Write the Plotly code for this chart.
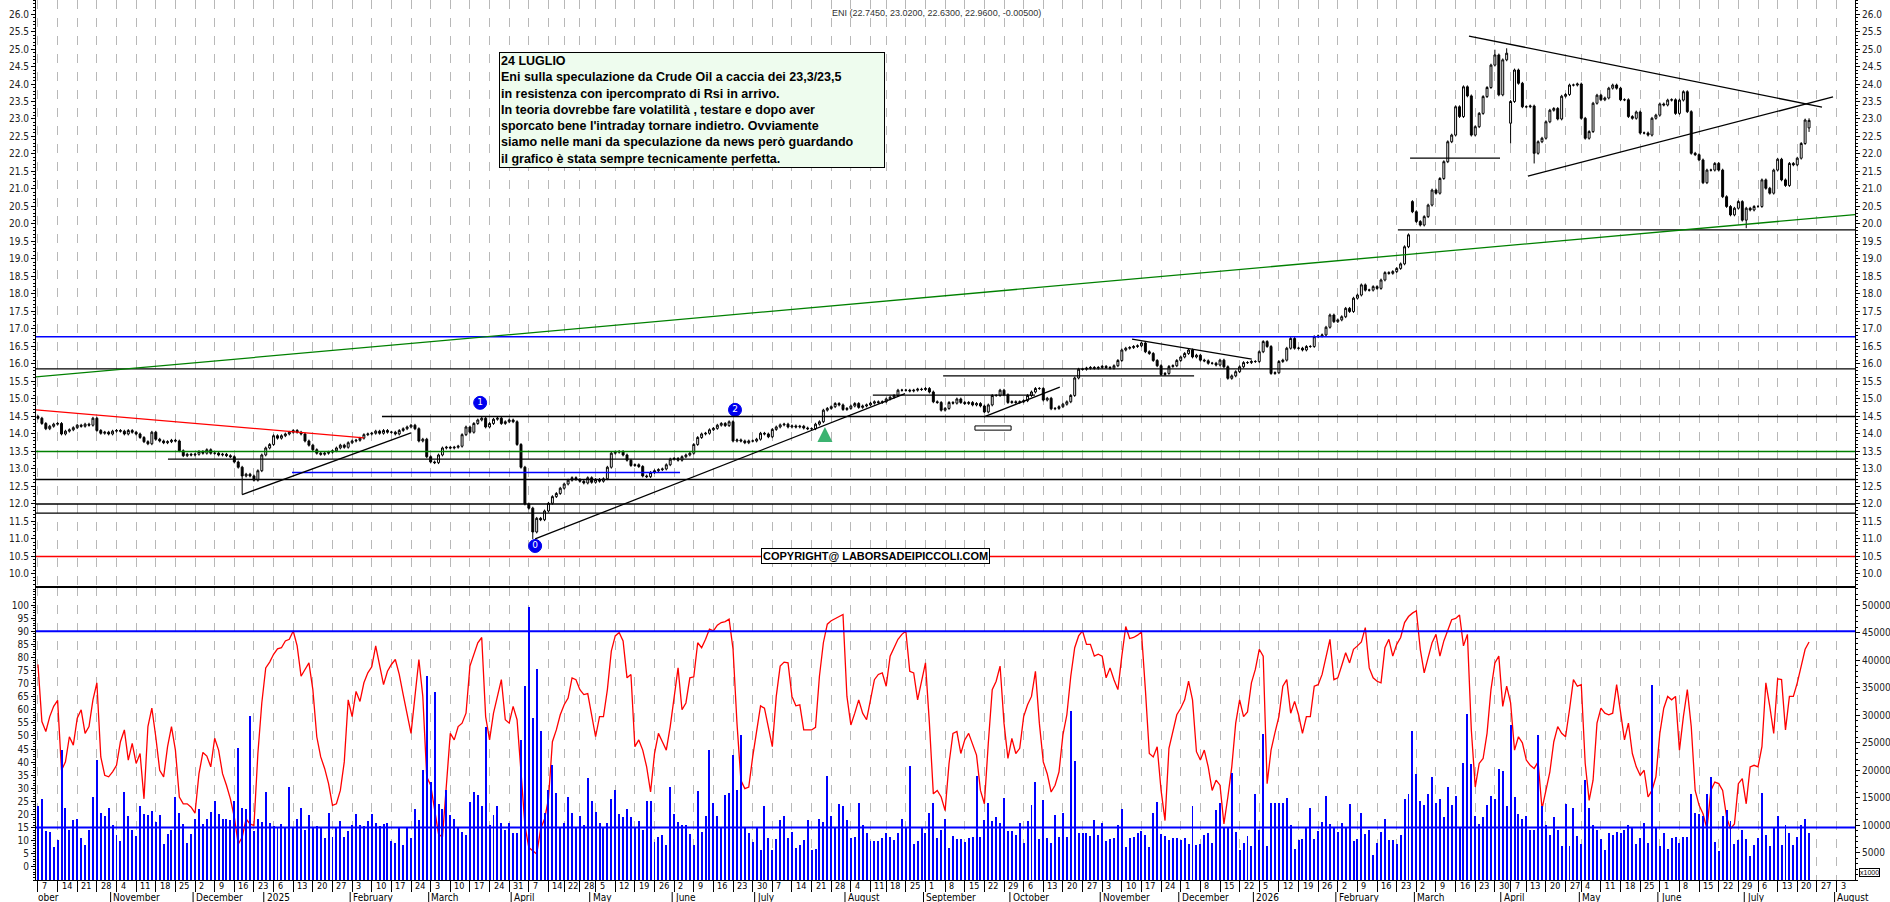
"""
ENI daily candles with trend lines, RSI and volume panel (24 luglio update).
"""
import pandas as pd
import plotly.graph_objects as go

# ---- daily closes, one value per trading day ----
close_oct24_apr25 = [
    14.45, 14.3, 14.15, 14.22, 14.28, 14.3, 14.0, 14.08, 14.12, 14.18,
    14.25, 14.22, 14.28, 14.25, 14.45, 14.1, 14.02, 14.05, 14.0, 14.08,
    14.1, 14.08, 14.0, 14.1, 14.05, 14.0, 13.9, 13.78, 13.72, 14.05,
    13.85, 13.8, 13.75, 13.78, 13.82, 13.8, 13.52, 13.38, 13.42, 13.4,
    13.42, 13.5, 13.45, 13.55, 13.45, 13.45, 13.4, 13.42, 13.38, 13.35,
    13.2, 13.05, 12.8, 12.85, 12.8, 12.68, 12.95, 13.4, 13.6, 13.7,
    13.95, 13.88, 13.95, 14.0, 14.05, 14.1, 14.05, 14.0, 13.8, 13.68,
    13.55, 13.45, 13.42, 13.45, 13.48, 13.52, 13.6, 13.68, 13.62, 13.75,
    13.8, 13.82, 13.88, 13.98, 14.0, 14.02, 14.08, 14.02, 14.1, 14.05,
    14.05, 14.0, 14.1, 14.15, 14.2, 14.25, 14.15, 13.8, 13.85, 13.35,
    13.2, 13.18, 13.4, 13.6, 13.62, 13.6, 13.62, 13.65, 13.98, 14.2,
    14.05, 14.3, 14.4, 14.45, 14.2, 14.3, 14.42, 14.45, 14.3, 14.35,
    14.4, 14.35, 13.7, 13.05, 12.0, 11.88, 11.2, 11.59, 11.55, 11.8,
    12.02, 12.21, 12.3, 12.45]
close_apr25_dec25 = [
    12.57, 12.68, 12.75, 12.7, 12.65, 12.6, 12.75, 12.62, 12.7, 12.65,
    12.72, 13.05, 13.45, 13.48, 13.5, 13.4, 13.25, 13.1, 13.12, 13.07,
    12.8, 12.78, 12.9, 12.95, 12.98, 13.0, 13.12, 13.28, 13.3, 13.25,
    13.35, 13.4, 13.45, 13.7, 13.9, 14.0, 14.02, 14.12, 14.16, 14.25,
    14.3, 14.24, 14.35, 13.8, 13.83, 13.8, 13.75, 13.8, 13.8, 13.85,
    14.02, 14.0, 13.92, 14.13, 14.2, 14.26, 14.28, 14.2, 14.23, 14.2,
    14.22, 14.17, 14.15, 14.15, 14.28, 14.35, 14.68, 14.73, 14.78, 14.87,
    14.83, 14.7, 14.73, 14.8, 14.87, 14.76, 14.8, 14.83, 14.88, 14.92,
    14.9, 14.92, 15.0, 15.05, 15.1, 15.25, 15.25, 15.25, 15.23, 15.25,
    15.28, 15.27, 15.3, 15.2, 14.92, 14.9, 14.68, 14.73, 14.9, 14.88,
    15.0, 14.9, 14.87, 14.9, 14.83, 14.87, 14.8, 14.63, 14.83, 15.1,
    15.1, 15.25, 15.12, 14.9, 14.92, 14.9, 14.92, 14.95, 15.1, 15.2,
    15.3, 15.3, 14.97, 15.02, 14.72, 14.73, 14.78, 14.85, 14.92, 15.1,
    15.6, 15.85, 15.85, 15.88, 15.9, 15.88, 15.9, 15.93, 15.9, 15.88,
    15.95, 16.1, 16.4, 16.45, 16.47, 16.5, 16.52, 16.6, 16.35, 16.3,
    16.1, 15.95, 15.7, 15.73, 15.93, 15.95, 16.1, 16.2, 16.3, 16.4,
    16.2, 16.25]
close_dec25_mar26 = [
    16.11, 16.09, 16.02, 16.02, 15.97, 16.11, 15.92, 15.59, 15.66, 15.78,
    15.92, 16.04, 16.04, 16.07, 16.07, 16.35, 16.64, 16.5, 15.73, 15.75,
    16.07, 16.11, 16.45, 16.73, 16.45, 16.45, 16.4, 16.5, 16.5, 16.78,
    16.8, 16.83, 17.05, 17.4, 17.21, 17.26, 17.35, 17.59, 17.5, 17.88,
    17.97, 18.26, 18.11, 18.11, 18.21, 18.16, 18.4, 18.61, 18.59, 18.64,
    18.73, 18.86, 19.35, 19.69]
close_mar26_jul26 = [
    20.35, 20.07, 19.97, 20.21, 20.54, 20.97, 20.88, 21.3, 21.78, 22.35,
    22.54, 23.35, 23.07, 23.92, 23.66, 22.54, 22.78, 23.16, 23.64, 23.9,
    24.54, 24.83, 23.69, 24.69, 24.88, 23.5, 24.4, 24.02, 23.35, 23.35,
    23.37, 22.02, 22.35, 22.45, 22.92, 23.25, 23.3, 23.0, 23.65, 23.7,
    23.97, 23.97, 24.0, 23.02, 22.45, 22.64, 23.45, 23.68, 23.55, 23.6,
    23.88, 23.97, 23.88, 23.55, 23.55, 23.07, 23.02, 23.2, 22.6, 22.6,
    22.54, 23.02, 23.11, 23.43, 23.4, 23.54, 23.55, 23.16, 23.54, 23.78,
    23.21, 22.02, 21.98, 21.83, 21.18, 21.54, 21.54, 21.73, 21.54, 20.78,
    20.5, 20.26, 20.45, 20.64, 20.11, 20.45, 20.4, 20.5, 20.5, 21.26,
    21.02, 20.88, 21.54, 21.85, 21.26, 21.1, 21.73, 21.69, 21.88, 22.3,
    22.97, 22.96]

# gap opens and long shadows (trading-day index -> price)
open_gaps = {350: 20.64, 375: 22.88, 451: 22.745}
low_shadows = {52: 12.27, 126: 11.0, 375: 22.3, 381: 21.73, 435: 19.88, 451: 22.63}
high_shadows = {371: 24.98, 374: 25.02, 451: 23.02}

rsi = [
    77.3, 55.5, 51.7, 57.4, 61.3, 63.6, 36.9, 40.1, 49.7, 46.5,
    56.8, 60.0, 51.0, 53.6, 63.8, 70.3, 42.0, 35.0, 34.4, 36.3,
    38.8, 47.8, 52.3, 40.8, 47.2, 39.5, 43.3, 26.0, 53.6,
    60.6, 49.7, 36.9, 34.4, 45.9, 53.6, 44.6, 26.7, 24.1, 24.1,
    22.8, 20.5, 35.6, 43.7, 42.3, 38.2, 49.1, 44.6, 35.6, 31.2,
    26.0, 19.0, 8.7, 11.3, 18.3, 16.4, 15.8, 43.3, 62.6,
    76.0, 78.2, 81.2, 83.3, 83.7, 86.3, 86.9, 90.1, 84.4, 72.8,
    75.4, 77.9, 67.7, 49.7, 42.0, 37.6, 31.8, 23.5, 24.1, 29.2,
    40.1, 63.8, 57.4, 67.0, 63.2, 70.3, 74.1, 76.4, 84.4,
    76.7, 69.6, 74.7, 77.3, 79.2, 73.5, 65.8, 58.7, 51.0, 65.1,
    79.2, 65.1, 34.4, 31.2, 21.5, 12.6, 11.3, 33.1, 51.0,
    48.5, 53.6, 54.9, 58.7, 76.7, 81.2, 85.6, 87.6, 57.4, 48.5,
    58.7, 65.1, 71.5, 56.2, 54.9, 61.3, 56.2, 36.3, 15.8, 7.4,
    6.2, 4.9, 14.5, 18.3, 26.0, 47.8, 52.3, 58.1, 61.9,
    64.5, 72.2, 71.5, 67.7, 65.8, 66.2, 58.1, 49.7, 57.4, 57.4,
    67.7, 82.4, 88.2, 89.5, 86.3, 72.2, 73.5, 45.9, 48.5, 44.6,
    38.2, 28.6, 43.3, 51.0, 47.8, 44.6, 53.6, 65.1, 76.0,
    60.0, 62.6, 72.2, 72.6, 85.6, 83.7, 86.9, 90.8, 90.1, 92.3,
    93.3, 93.7, 94.6, 83.1, 54.9, 33.1, 29.9, 30.5, 42.0,
    52.3, 61.5, 60.6, 53.6, 45.9, 65.1, 76.7, 78.2, 77.9, 65.1,
    61.5, 61.9, 52.3, 52.3, 52.3, 53.3, 72.8, 85.6, 92.7, 94.0,
    94.9, 95.6, 96.4, 65.1, 54.2, 58.7, 63.8, 58.7, 56.2,
    63.8, 71.5, 73.5, 74.1, 69.0, 80.5, 83.7, 86.9, 88.8, 90.1,
    74.7, 74.1, 63.8, 70.3, 77.9, 54.9, 27.9, 29.2, 26.7, 21.5,
    39.5, 51.0, 51.7, 43.3, 48.5, 51.0, 47.2, 42.7, 29.2,
    24.1, 47.2, 67.7, 70.9, 76.7, 54.9, 41.4, 49.1, 43.3, 45.3,
    57.4, 61.9, 65.1, 74.7, 54.9, 40.1, 35.6, 28.6, 31.2, 36.3,
    50.4, 58.1, 72.8, 83.7, 88.2, 90.1, 85.0, 85.0, 80.5,
    81.2, 80.5, 72.2, 76.0, 71.5, 67.7, 80.5, 91.8, 87.2, 87.6,
    88.5, 89.7, 67.7, 43.3, 42.0, 45.9, 29.2, 17.7, 45.3,
    52.3, 58.1, 60.6, 63.8, 70.9, 63.8, 44.0, 40.8, 44.6, 38.2,
    29.2, 33.1, 31.2, 16.4, 26.7, 38.2, 54.9, 63.8, 57.4, 59.2,
    70.3, 75.4, 83.1, 80.5, 31.8, 44.6, 51.3, 57.4, 69.0,
    71.5, 58.7, 63.2, 58.1, 51.0, 57.4, 57.4, 69.0, 69.6, 73.5,
    79.9, 86.9, 71.5, 72.2, 76.9, 81.8, 77.9, 83.1, 84.4, 85.9,
    91.4, 76.0, 72.2, 70.9, 70.3, 83.7, 86.9, 80.5, 85.0,
    87.6, 93.3, 95.6, 96.9, 97.8, 83.1, 74.1, 79.9, 85.6, 88.8,
    80.5, 86.3, 90.8, 94.4, 94.9, 96.2, 84.4, 88.8, 52.3,
    30.5, 39.5, 41.4, 51.0, 67.7, 77.9, 80.5, 61.3, 69.0, 62.6,
    44.6, 49.7, 47.4, 40.8, 38.8, 37.6, 40.1, 22.2, 29.9, 36.3,
    47.8, 53.6, 51.0, 49.7, 60.0, 71.5, 69.0, 69.6, 39.5,
    25.4, 33.1, 54.9, 60.6, 58.7, 58.1, 58.7, 69.6, 58.1, 48.5,
    54.9, 43.3, 38.2, 35.0, 36.9, 26.7, 29.2, 34.4, 51.0, 60.6,
    65.1, 63.8, 65.1, 44.6, 57.4, 67.7, 53.6, 29.2, 23.5,
    20.3, 14.5, 29.2, 32.4, 31.8, 29.2, 19.0, 14.5, 16.4, 31.8,
    33.7, 24.1, 38.2, 38.8, 38.2, 45.9, 70.3, 61.3, 51.0,
    71.8, 71.5, 52.3, 65.1, 65.1, 70.3, 76.7, 83.1, 85.9]

# volume in thousands of shares
volume_k = [
    13.5, 14.8, 9.0, 8.8, 6.0, 7.3, 23.7, 13.1, 9.1, 10.9,
    11.2, 7.7, 6.4, 9.1, 15.1, 21.8, 12.3, 11.7, 13.2, 10.0,
    8.2, 7.2, 16.0, 11.7, 9.1, 8.0, 13.5, 12.0, 11.8, 12.6,
    10.6, 11.8, 6.6, 8.4, 9.1, 15.2, 12.3, 10.2, 6.8, 8.4,
    11.2, 12.9, 10.2, 11.2, 12.4, 14.4, 12.0, 11.2, 11.2, 10.9,
    14.4, 24.0, 13.2, 12.9, 29.8, 9.0, 11.2, 10.6, 16.0, 10.3,
    9.8, 9.4, 10.2, 9.7, 17.0, 9.5, 11.2, 13.2, 9.2, 11.8,
    9.5, 9.8, 9.7, 7.6, 12.3, 7.9, 9.5, 10.7, 7.9, 9.0,
    10.0, 12.0, 10.0, 9.8, 10.7, 12.0, 10.3, 9.8, 10.2, 10.3,
    7.1, 6.8, 9.4, 6.4, 9.4, 7.6, 13.0, 10.9, 20.0, 37.2,
    17.9, 34.3, 13.8, 12.9, 16.4, 11.8, 11.2, 9.7, 8.8, 8.2,
    14.3, 16.0, 15.5, 13.4, 27.8, 10.0, 11.8, 13.5, 10.3, 9.1,
    10.3, 8.5, 8.5, 25.5, 35.3, 49.7, 29.6, 38.4, 27.2, 12.3,
    16.4, 21.0, 15.9, 9.7, 10.3, 15.2, 12.3, 9.7, 11.7, 10.0,
    18.5, 14.4, 12.4, 10.3, 9.4, 10.3, 14.7, 16.4, 12.0, 11.4,
    13.0, 11.5, 9.7, 10.8, 9.2, 14.4, 14.4, 7.0, 7.9, 8.2,
    6.4, 17.0,
    12.1, 10.6, 10.0, 10.0, 8.4, 6.3, 16.3, 8.7, 11.7, 23.7,
    14.1, 11.7, 9.4, 15.5, 15.9, 22.8, 16.4, 26.4, 9.4, 8.5,
    7.0, 9.4, 5.5, 13.4, 7.6, 5.5, 7.4, 10.9, 11.7, 7.6,
    8.7, 5.8, 6.4, 7.3, 10.9, 5.5, 5.6, 11.1, 10.6, 18.9,
    11.7, 9.6, 13.8, 13.4, 10.9, 7.6, 7.9, 14.0, 10.0, 8.6,
    7.2, 7.2, 7.2, 7.6, 8.5, 7.9, 7.3, 8.6, 11.1, 9.6,
    20.8, 6.5, 7.2, 9.6, 8.5, 12.3, 14.1, 7.6, 9.2, 11.2,
    5.9, 8.0, 7.4, 7.4, 7.0, 7.6, 7.8, 18.9, 7.9, 10.9,
    14.1, 10.8, 11.4, 10.4, 14.9, 8.9, 8.9, 8.2, 10.4, 6.8,
    10.8, 13.7, 17.9, 7.4, 14.6, 7.6, 6.8, 11.8, 7.9, 12.3,
    7.9, 30.7, 21.6, 8.6, 8.6, 8.6, 8.0, 10.9, 8.2, 10.3,
    7.2, 7.4, 7.6, 10.0, 12.9, 6.1, 7.6, 7.9, 8.6, 9.0,
    8.2, 6.1, 12.3, 14.3, 8.3, 8.0, 7.3, 7.6, 7.6, 7.3,
    7.6, 6.5, 13.5, 6.4, 6.5, 8.2, 8.5, 6.8, 12.7, 14.1,
    9.6, 9.4, 19.5, 8.8, 5.5, 6.7, 8.0, 6.2, 15.7, 9.1,
    26.6, 6.2, 14.0, 14.0, 14.0, 14.0, 14.9, 10.0, 5.7,
    7.3, 7.4, 9.4, 13.1, 7.4, 9.0, 10.6, 15.3, 10.2, 9.7,
    8.8, 10.3, 9.6, 13.8, 7.2, 7.4, 12.3, 8.4, 9.2, 4.6,
    6.8, 8.8, 11.1, 7.3, 7.3, 6.6, 8.2, 14.8, 15.7, 27.1,
    19.3, 14.4, 13.7, 15.7, 18.7, 14.0, 14.8, 11.4, 16.9, 13.7,
    15.3, 9.7, 21.4, 30.2, 21.1, 11.7, 10.2, 11.4, 13.7, 15.3,
    14.7, 20.3, 19.9, 13.4, 28.2, 15.1, 12.0, 11.1, 11.7, 9.2,
    9.2, 26.4, 13.5, 10.0, 8.2, 11.4, 9.2, 6.2, 13.8, 6.2,
    13.1, 8.0, 6.6, 18.3, 13.1, 10.0, 9.1, 7.4, 5.5, 8.6,
    8.2, 8.8, 8.5, 9.1, 10.0, 9.4, 6.6, 7.6, 10.3, 6.7,
    35.5, 9.7, 6.2, 8.5, 5.6, 7.6, 7.9, 6.7, 7.8, 7.9,
    15.7, 12.3, 12.1, 11.7, 15.7, 18.7, 7.0, 5.2, 11.7, 12.8,
    10.8, 6.6, 7.3, 9.1, 7.4, 4.3, 6.4, 7.6, 15.9, 8.2,
    6.2, 9.6, 11.7, 6.4, 10.0, 8.6, 6.4, 7.9, 10.0, 11.2,
    8.6]

# Borsa Italiana closing days inside the window
holidays = ['2024-12-24', '2024-12-25', '2024-12-26', '2024-12-31',
            '2025-01-01', '2025-04-18', '2025-04-21', '2025-05-01',
            '2025-08-15', '2025-12-24', '2025-12-25', '2025-12-26',
            '2025-12-31', '2026-01-01', '2026-04-03', '2026-04-06',
            '2026-05-01']

month_names = ['', '', 'February', 'March', 'April', 'May', 'June', 'July',
               'August', 'September', 'October', 'November', 'December']

annotation_text = ("24 LUGLIO<br>"
                   "Eni sulla speculazione da Crude Oil a caccia dei 23,3/23,5<br>"
                   "in resistenza con ipercomprato di Rsi in arrivo.<br>"
                   "In teoria dovrebbe fare volatilità , testare e dopo aver<br>"
                   "sporcato bene l'intraday tornare indietro. Ovviamente<br>"
                   "siamo nelle mani da speculazione da news però guardando<br>"
                   "il grafico è stata sempre tecnicamente perfetta.")

NARROW = 'Liberation Sans Narrow, Arial Narrow, DejaVu Sans Condensed, sans-serif'
SANS = 'Liberation Sans, Arial, sans-serif'
X_MIN, X_MAX = -0.5, 462.7
SPLIT = 0.333          # boundary between the price panel and the RSI / volume panel
PLOT_H = 880.0         # plot height in px (figure height minus bottom margin)


def seg(x0, y0, x1, y1, color='black', width=1.3):
    """A straight line in price/trading-day coordinates."""
    return dict(type='line', xref='x', yref='y', x0=x0, y0=y0, x1=x1, y1=y1,
                line=dict(color=color, width=width))


def below(px):
    """Paper y for a position px pixels under the bottom of the plot area."""
    return -px / PLOT_H


# ---- trading calendar ----
days = pd.bdate_range('2024-10-07', '2026-08-14')
days = days[~days.isin(pd.to_datetime(holidays))]

close = close_oct24_apr25 + close_apr25_dec25 + close_dec25_mar26 + close_mar26_jul26
n = len(close)
idx = list(range(n))

opens = [14.5] + close[:-1]
for i, v in open_gaps.items():
    opens[i] = v
highs = [max(o, c) + 0.04 for o, c in zip(opens, close)]
lows = [min(o, c) - 0.04 for o, c in zip(opens, close)]
for i, v in low_shadows.items():
    lows[i] = v
for i, v in high_shadows.items():
    highs[i] = v

# weekly ticks: first trading day of each week, skip ones that would collide
tickvals, ticktext = [], []
prev_week = None
for i, d in enumerate(days):
    if i > X_MAX:
        break
    wk = d.isocalendar()[:2]
    if wk != prev_week:
        prev_week = wk
        if tickvals and i - tickvals[-1] < 3:
            continue
        tickvals.append(i)
        ticktext.append(str(d.day))

month_starts = []
for i, d in enumerate(days):
    if i > X_MAX:
        break
    if i > 0 and d.month != days[i - 1].month:
        label = str(d.year) if d.month == 1 else month_names[d.month]
        month_starts.append((i, label))

fig = go.Figure()

fig.add_trace(go.Candlestick(
    x=idx, open=opens, high=highs, low=lows, close=close,
    increasing=dict(line=dict(color='black', width=1), fillcolor='white'),
    decreasing=dict(line=dict(color='black', width=1), fillcolor='black'),
    whiskerwidth=0, showlegend=False, hoverinfo='skip'))

# dummy point so that the right price axis gets drawn
fig.add_trace(go.Scatter(x=[0], y=[20], yaxis='y4', mode='markers',
                         marker=dict(opacity=0), showlegend=False, hoverinfo='skip'))

fig.add_trace(go.Bar(x=idx, y=[v * 1000 for v in volume_k], yaxis='y3', width=0.25,
                     marker=dict(color='#0000ff', line=dict(width=0)),
                     showlegend=False, hoverinfo='skip'))

fig.add_trace(go.Scatter(x=idx, y=rsi, yaxis='y2', mode='lines',
                         line=dict(color='#ff0000', width=1.3),
                         showlegend=False, hoverinfo='skip'))

# numbered swing markers
fig.add_trace(go.Scatter(x=[112.6, 177.5, 126.6], y=[14.89, 14.69, 10.8],
                         mode='markers+text', text=['1', '2', '0'],
                         textposition='middle center',
                         textfont=dict(color='white', size=9, family='DejaVu Sans'),
                         marker=dict(size=13, color='#0000ee', line=dict(color='#0000ee', width=1)),
                         showlegend=False, hoverinfo='skip'))

shapes = [
    # horizontal supports / resistances
    seg(X_MIN, 16.78, X_MAX, 16.78, '#0000ff', 1.5),
    seg(X_MIN, 15.86, X_MAX, 15.86),
    seg(87.6, 14.5, X_MAX, 14.5),
    seg(X_MIN, 13.5, X_MAX, 13.5, '#008000', 1.5),
    seg(33.1, 13.28, X_MAX, 13.28),
    seg(64.7, 12.9, 163.5, 12.9, '#0000ff', 1.5),
    seg(X_MIN, 12.7, X_MAX, 12.7),
    seg(X_MIN, 12.0, X_MAX, 12.0),
    seg(X_MIN, 11.74, X_MAX, 11.74),
    seg(X_MIN, 10.5, X_MAX, 10.5, '#ff0000', 1.5),
    seg(346.3, 19.83, X_MAX, 19.83),
    seg(349.4, 21.88, 372.3, 21.88),
    seg(230.5, 15.66, 294.4, 15.66),
    seg(212.6, 15.11, 253.9, 15.11),
    # trend lines
    seg(X_MIN, 14.69, 83.0, 13.89, '#ff0000', 1.3),
    seg(52, 12.27, 95.0, 14.03),
    seg(126.6, 11.0, 220.8, 15.15),
    seg(X_MIN, 15.63, X_MAX, 20.27, '#008000', 1.3),
    seg(240.9, 14.49, 260.2, 15.34),
    seg(278.6, 16.71, 309.1, 16.14),
    seg(364.4, 25.37, 454.3, 23.34),
    seg(379.4, 21.37, 457.1, 23.63),
    dict(type='rect', xref='x', yref='y', x0=238.6, x1=247.8, y0=14.11, y1=14.23,
         line=dict(color='black', width=1), fillcolor='white'),
    # RSI bands
    dict(type='line', xref='paper', yref='y2', x0=0, x1=1, y0=90, y1=90,
         line=dict(color='#0000ff', width=2)),
    dict(type='line', xref='paper', yref='y2', x0=0, x1=1, y0=15, y1=15,
         line=dict(color='#0000ff', width=2)),
    # panel separator
    dict(type='line', xref='paper', yref='paper', x0=0, x1=1, y0=SPLIT, y1=SPLIT,
         line=dict(color='black', width=2)),
]
# month separators in the second date row
for i, _ in month_starts:
    shapes.append(dict(type='line', xref='x', yref='paper', x0=i - 0.5, x1=i - 0.5,
                       y0=below(12), y1=below(22), line=dict(color='black', width=1)))

annotations = [
    dict(xref='paper', yref='paper', x=0.4953, y=0.993, showarrow=False,
         text='ENI (22.7450, 23.0200, 22.6300, 22.9600, -0.00500)',
         font=dict(size=9, color='#333333', family=SANS)),
    dict(xref='paper', yref='paper', x=0.2545, y=0.9409, xanchor='left', yanchor='top',
         showarrow=False, text='<b>' + annotation_text + '</b>', align='left', width=382,
         bgcolor='#eefcee', bordercolor='black', borderwidth=1, borderpad=1,
         font=dict(size=12.5, color='black', family=SANS)),
    dict(xref='x', yref='y', x=213.4, y=10.5, showarrow=False,
         text='<b>COPYRIGHT@ LABORSADEIPICCOLI.COM</b>',
         bgcolor='white', bordercolor='black', borderwidth=1, borderpad=1,
         font=dict(size=11, color='black', family=SANS)),
    dict(xref='x', yref='y', x=200.4, y=14.2, ax=0, ay=13, showarrow=True,
         arrowhead=2, arrowsize=1, arrowwidth=3, arrowcolor='#3cb371', text=''),
    dict(xref='paper', yref='paper', x=0.0, y=below(17), xanchor='left', yanchor='middle',
         showarrow=False, text='ober', font=dict(size=10, color='black', family=NARROW)),
    dict(xref='paper', yref='paper', x=1.002, y=0.003, xanchor='left', yanchor='bottom',
         showarrow=False, text='x1000', bgcolor='white', bordercolor='black',
         borderwidth=1, borderpad=0, font=dict(size=7, color='black', family=SANS)),
]
# first date row: day of month of the first session of each week
for v, t in zip(tickvals, ticktext):
    annotations.append(dict(xref='x', yref='paper', x=v, y=below(6), xanchor='left',
                            yanchor='middle', xshift=2, showarrow=False, text=t,
                            font=dict(size=9, color='black', family=NARROW)))
# second date row: month names
for i, label in month_starts:
    annotations.append(dict(xref='x', yref='paper', x=i - 0.3, y=below(17),
                            xanchor='left', yanchor='middle', showarrow=False, text=label,
                            font=dict(size=10, color='black', family=NARROW)))

tick_font = dict(size=10, color='#222222', family=NARROW)
price_ticks = [10 + 0.5 * k for k in range(33)]
price_axis = dict(range=[9.629, 26.4], tickvals=price_ticks,
                  ticktext=['%.1f' % v for v in price_ticks], tickfont=tick_font,
                  ticks='outside', ticklen=4, tickcolor='black',
                  minor=dict(dtick=0.1, ticks='outside', ticklen=2, tickcolor='black'),
                  showline=True, linecolor='black', linewidth=1,
                  showgrid=False, zeroline=False, fixedrange=True)
volume_ticks = list(range(5000, 50001, 5000))

fig.update_layout(
    width=1890, height=902,
    margin=dict(l=36, r=35, t=0, b=22),
    paper_bgcolor='white', plot_bgcolor='white',
    showlegend=False, bargap=0,
    xaxis=dict(domain=[0, 1], anchor='y2', range=[X_MIN, X_MAX],
               tickvals=tickvals, showticklabels=False,
               ticks='outside', ticklen=11, tickcolor='black',
               showgrid=True, gridcolor='#b8b8b8', griddash='dash', gridwidth=1,
               showline=True, linecolor='black', linewidth=1, zeroline=False,
               rangeslider=dict(visible=False)),
    yaxis=dict(domain=[SPLIT, 1], anchor='x', side='left', **price_axis),
    yaxis4=dict(overlaying='y', anchor='x', side='right', **price_axis),
    yaxis2=dict(domain=[0, SPLIT], anchor='x', side='left', range=[-5.0, 106.9],
                tickvals=list(range(0, 101, 5)), tickfont=tick_font,
                ticks='outside', ticklen=4, tickcolor='black',
                minor=dict(dtick=1, ticks='outside', ticklen=2, tickcolor='black'),
                showline=True, linecolor='black', linewidth=1,
                showgrid=False, zeroline=False),
    yaxis3=dict(overlaying='y2', anchor='x', side='right', range=[0, 53370],
                tickvals=volume_ticks, ticktext=[str(v) for v in volume_ticks],
                tickfont=tick_font,
                ticks='outside', ticklen=4, tickcolor='black',
                minor=dict(dtick=1000, ticks='outside', ticklen=2, tickcolor='black'),
                showline=True, linecolor='black', linewidth=1,
                showgrid=False, zeroline=False),
    shapes=shapes,
    annotations=annotations,
)

# the page body margin would otherwise push the 1890x902 figure past the window
fig.write_html("out.html", config={'displayModeBar': False},
               post_script="document.body.style.margin='0';document.body.style.overflow='hidden';")
